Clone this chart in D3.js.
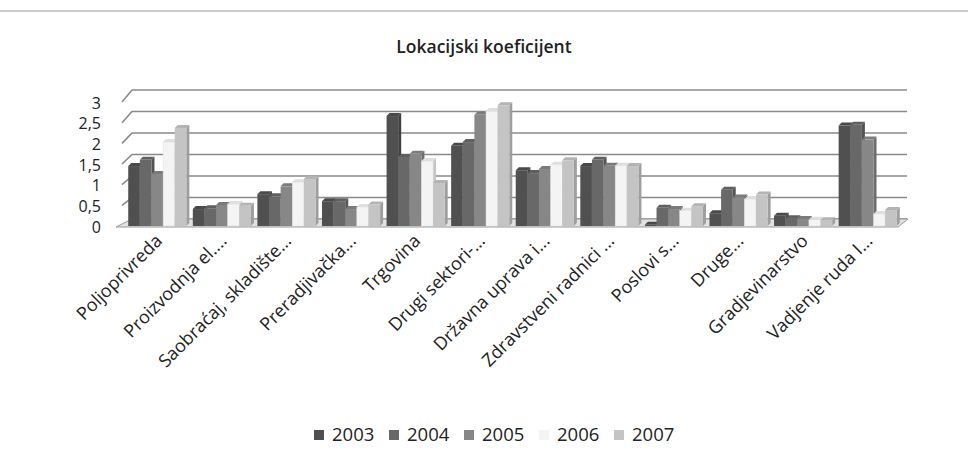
<!DOCTYPE html>
<html>
<head>
<meta charset="utf-8">
<script src="https://cdn.jsdelivr.net/npm/d3@7"></script>
<style>
  body { margin: 0; background: #fff; }
  text { font-family: "Open Sans", "Liberation Sans", sans-serif; fill: #222; }
</style>
</head>
<body>
<div id="chart"></div>
<script>
const categories = [
    "Poljoprivreda", "Proizvodnja el....", "Saobraćaj, skladište...", "Preradjivačka...",
    "Trgovina", "Drugi sektori-...", "Državna uprava i...", "Zdravstveni radnici ...",
    "Poslovi s...", "Druge...", "Gradjevinarstvo", "Vadjenje ruda I..."
];
const years = ["2003", "2004", "2005", "2006", "2007"];
const v2003 = [1.45, 0.41, 0.77, 0.60, 2.66, 1.94, 1.35, 1.45, 0.03, 0.31, 0.25, 2.43];
const v2004 = [1.60, 0.43, 0.72, 0.60, 1.67, 2.03, 1.28, 1.60, 0.44, 0.88, 0.19, 2.45];
const v2005 = [1.26, 0.51, 0.96, 0.41, 1.75, 2.69, 1.38, 1.46, 0.41, 0.69, 0.17, 2.09];
const v2006 = [2.03, 0.53, 1.06, 0.46, 1.57, 2.78, 1.48, 1.46, 0.37, 0.65, 0.15, 0.29];
const v2007 = [2.37, 0.49, 1.14, 0.52, 1.04, 2.92, 1.59, 1.45, 0.48, 0.76, 0.14, 0.39];
const yTicks = [0, 0.5, 1, 1.5, 2, 2.5, 3];

const series = [v2003, v2004, v2005, v2006, v2007];
const colours = ["#505050", "#686868", "#878787", "#f4f4f4", "#c4c4c4"];

const width = 968, height = 460;
const depthX = 10;

const svg = d3.select('#chart').append('svg')
    .attr('width', width)
    .attr('height', height);

// top border from the scan
svg.append('line')
    .attr('x1', 0).attr('x2', width)
    .attr('y1', 11).attr('y2', 11)
    .attr('stroke', '#999').attr('stroke-width', 1);

svg.append('text')
    .attr('x', 484)
    .attr('y', 53)
    .attr('text-anchor', 'middle')
    .style('font-size', '17.5px')
    .style('font-weight', '600')
    .text('Lokacijski koeficijent');

const xScale = d3.scaleBand()
    .domain(categories)
    .range([125, 900])
    .paddingInner(0.1)
    .paddingOuter(0.05);

const yFront = d3.scaleLinear().domain([0, 3]).range([227, 103]);
const yBack = d3.scaleLinear().domain([0, 3]).range([219, 90]);
const yBar = d3.scaleLinear().domain([0, 3]).range([226, 102]);

const wallX = 122;

// gridlines on back wall with short side-wall segments
const grid = svg.append('g');
yTicks.forEach(t => {
    grid.append('path')
        .attr('d', `M${wallX},${yFront(t) - 1} L${wallX + depthX},${yBack(t)} L907,${yBack(t)}`)
        .attr('fill', 'none')
        .attr('stroke', '#8a8a8a')
        .attr('stroke-width', 1.6);
});

// y axis labels
svg.append('g')
    .selectAll('text')
    .data(yTicks)
    .enter().append('text')
        .attr('x', 101)
        .attr('y', d => yFront(d))
        .attr('dy', '0.35em')
        .attr('text-anchor', 'end')
        .style('font-size', '16px')
        .text(d => String(d).replace('.', ','));

// floor
svg.append('path')
    .attr('d', `M${wallX - 6},${yFront(0)} L898,${yFront(0)} L908,${yBack(0)} L${wallX + depthX},${yBack(0)} Z`)
    .attr('fill', '#e2e2e2')
    .attr('stroke', '#9a9a9a')
    .attr('stroke-width', 1);

// bars
const barW = xScale.bandwidth() / years.length;
const bx = 3, by = -3;
const bars = svg.append('g');
categories.forEach((cat, ci) => {
    series.forEach((vals, si) => {
        const x0 = xScale(cat) + si * barW;
        const y0 = yBar(vals[ci]);
        const yb = yBar(0);
        const col = d3.color(colours[si]);
        // side face
        bars.append('path')
            .attr('d', `M${x0 + barW},${y0} L${x0 + barW + bx},${y0 + by} L${x0 + barW + bx},${yb + by} L${x0 + barW},${yb} Z`)
            .attr('fill', col.darker(0.6));
        // top face
        bars.append('path')
            .attr('d', `M${x0},${y0} L${x0 + bx},${y0 + by} L${x0 + barW + bx},${y0 + by} L${x0 + barW},${y0} Z`)
            .attr('fill', col.darker(0.25));
        // front face
        bars.append('rect')
            .attr('x', x0)
            .attr('y', y0)
            .attr('width', barW)
            .attr('height', yb - y0)
            .attr('fill', colours[si])
            .attr('stroke', si === 3 ? '#e0e0e0' : 'none')
            .attr('stroke-width', 0.5);
    });
});

// category labels
svg.append('g')
    .selectAll('text')
    .data(categories)
    .enter().append('text')
        .attr('transform', d => `translate(${xScale(d) + xScale.bandwidth() / 2 + 6},${242}) rotate(-45)`)
        .attr('text-anchor', 'end')
        .style('font-size', '18px')
        .text(d => d);

// legend
const legend = svg.append('g');
years.forEach((yr, i) => {
    const lx = 314 + i * 75;
    legend.append('rect')
        .attr('x', lx)
        .attr('y', 430)
        .attr('width', 10)
        .attr('height', 10)
        .attr('fill', colours[i]);
    legend.append('text')
        .attr('x', lx + 18)
        .attr('y', 435)
        .attr('dy', '0.35em')
        .style('font-size', '18.5px')
        .text(yr);
});
</script>
</body>
</html>
